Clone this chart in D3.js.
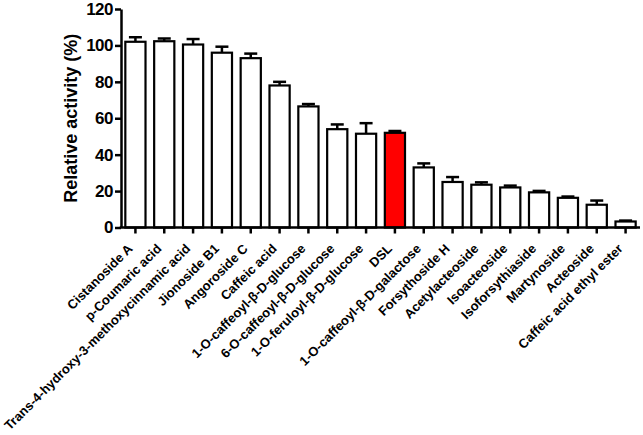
<!DOCTYPE html>
<html>
<head>
<meta charset="utf-8">
<script src="https://cdn.jsdelivr.net/npm/d3@7"></script>
<style>
  body { margin: 0; background: #fff; }
  svg text { font-family: "Liberation Sans", Arial, sans-serif; font-weight: bold; fill: #000; }
</style>
</head>
<body>
<svg id="chart" width="643" height="435"></svg>
<script>
// compounds, mean relative activity (%) and upper error (SD)
var compounds = [
  "Cistanoside A", "p-Coumaric acid", "Trans-4-hydroxy-3-methoxycinnamic acid",
  "Jionoside B1", "Angoroside C", "Caffeic acid",
  "1-O-caffeoyl-\u03B2-D-glucose", "6-O-caffeoyl-\u03B2-D-glucose", "1-O-feruloyl-\u03B2-D-glucose",
  "DSL", "1-O-caffeoyl-\u03B2-D-galactose", "Forsythoside H",
  "Acetylacteoside", "Isoacteoside", "Isoforsythiaside",
  "Martynoside", "Acteoside", "Caffeic acid ethyl ester"
];
var activity = [102, 102.3, 100.5, 96, 93, 78, 66.5, 54, 51.5, 52, 33, 25, 23.5, 22, 19.3, 16.3, 12.5, 3.3];
var errors = [2.5, 1.5, 3, 3.3, 2.5, 2, 1.3, 2.6, 5.8, 1, 2.2, 2.7, 1.3, 1, 0.8, 0.7, 2.3, 0.5];
var highlight = "DSL";
var yTicks = [0, 20, 40, 60, 80, 100, 120];

var draw = function() {
  var svg = d3.select("#chart");
  var plot_left = 121, plot_right = 640, plot_top = 9, plot_bottom = 227.5;

  var x = d3.scaleBand()
    .domain(compounds)
    .range([plot_left, plot_right])
    .paddingInner(0.3)
    .paddingOuter(0.15);

  var y = d3.scaleLinear()
    .domain([0, 120])
    .range([plot_bottom, plot_top]);

  var rows = compounds.map(function(c, i) {
    return { name: c, value: activity[i], err: errors[i] };
  });

  function mid(d) { return x(d.name) + x.bandwidth() / 2; }

  // error bars (drawn first so the bar outline sits over the stem)
  var eb = svg.append("g")
    .attr("stroke", "#000")
    .attr("stroke-width", 2.5);

  eb.selectAll("line.stem")
    .data(rows)
    .enter().append("line")
    .attr("class", "stem")
    .attr("x1", mid)
    .attr("x2", mid)
    .attr("y1", function(d) { return y(d.value); })
    .attr("y2", function(d) { return y(d.value + d.err); });

  eb.selectAll("line.cap")
    .data(rows)
    .enter().append("line")
    .attr("class", "cap")
    .attr("x1", function(d) { return mid(d) - 6.5; })
    .attr("x2", function(d) { return mid(d) + 6.5; })
    .attr("y1", function(d) { return y(d.value + d.err); })
    .attr("y2", function(d) { return y(d.value + d.err); });

  // bars
  svg.append("g").selectAll("rect")
    .data(rows)
    .enter().append("rect")
    .attr("x", function(d) { return x(d.name); })
    .attr("y", function(d) { return y(d.value); })
    .attr("width", x.bandwidth())
    .attr("height", function(d) { return y(0) - y(d.value); })
    .attr("fill", function(d) { return d.name === highlight ? "#ff0000" : "#fff"; })
    .attr("stroke", "#000")
    .attr("stroke-width", 2.2);

  // y axis
  var yAxis = svg.append("g")
    .attr("transform", "translate(" + plot_left + ",0)")
    .call(d3.axisLeft(y).tickValues(yTicks).tickSize(6).tickPadding(2).tickSizeOuter(0));
  yAxis.selectAll("line, path").attr("stroke", "#000").attr("stroke-width", 2.5);
  yAxis.selectAll("text")
    .attr("font-size", "17px")
    .attr("font-family", "Liberation Sans, Arial, sans-serif")
    .attr("font-weight", "bold")
    .attr("letter-spacing", "-0.5px")
    .attr("fill", "#000");

  // x axis
  var xAxis = svg.append("g")
    .attr("transform", "translate(0," + plot_bottom + ")")
    .call(d3.axisBottom(x).tickSize(6).tickSizeOuter(0));
  xAxis.selectAll("line, path").attr("stroke", "#000").attr("stroke-width", 2.5);
  xAxis.select("path.domain").attr("d", "M" + (plot_left - 1.25) + ",0H" + plot_right);
  xAxis.selectAll("text")
    .attr("font-size", "13px")
    .attr("font-family", "Liberation Sans, Arial, sans-serif")
    .attr("font-weight", "bold")
    .attr("fill", "#000")
    .attr("text-anchor", "end")
    .attr("dy", null)
    .attr("y", 0)
    .attr("transform", "translate(-2,22) rotate(-45)");

  // y axis title
  svg.append("text")
    .attr("transform", "translate(77," + ((plot_top + plot_bottom) / 2) + ") rotate(-90)")
    .attr("text-anchor", "middle")
    .attr("font-size", "18px")
    .text("Relative activity (%)");
};

draw();
</script>
</body>
</html>
